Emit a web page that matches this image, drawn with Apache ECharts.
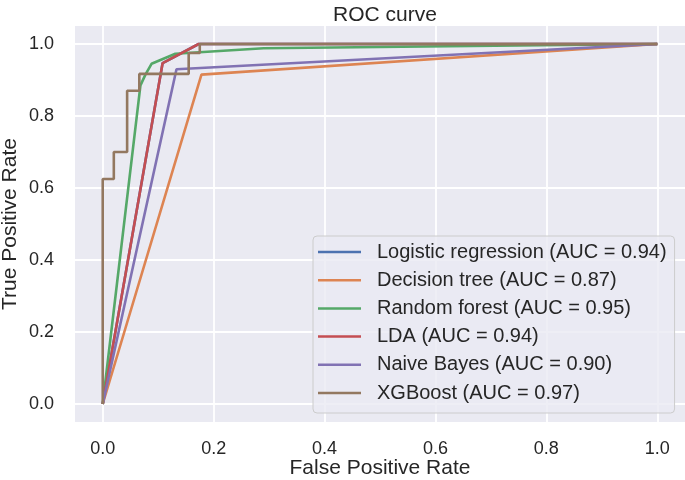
<!DOCTYPE html>
<html>
<head>
<meta charset="utf-8">
<script src="https://cdn.jsdelivr.net/npm/echarts@6/dist/echarts.min.js"></script>
<style>
html,body{margin:0;padding:0;background:#fff;}
#chart{width:685px;height:480px;}
</style>
</head>
<body>
<div id="chart"></div>
<script>
var tickValues = [0, 0.2, 0.4, 0.6, 0.8, 1.0];

var seriesNames = [
  'Logistic regression (AUC = 0.94)',
  'Decision tree (AUC = 0.87)',
  'Random forest (AUC = 0.95)',
  'LDA (AUC = 0.94)',
  'Naive Bayes (AUC = 0.90)',
  'XGBoost (AUC = 0.97)'
];

var fprLogistic = [0, 0.108, 0.173, 1];
var tprLogistic = [0, 0.947, 1.0, 1.0];

var fprTree = [0, 0.178, 1];
var tprTree = [0, 0.915, 1];

var fprForest = [0, 0.068, 0.077, 0.088, 0.131, 0.29, 1];
var tprForest = [0, 0.885, 0.915, 0.945, 0.973, 0.988, 1];

var fprLDA = [0, 0.108, 0.173, 1];
var tprLDA = [0, 0.947, 1.0, 1.0];

var fprBayes = [0, 0.133, 1];
var tprBayes = [0, 0.93, 1];

var fprXGB = [0, 0, 0.02, 0.02, 0.044, 0.044, 0.066, 0.066, 0.155, 0.155, 0.175, 0.175, 1];
var tprXGB = [0, 0.625, 0.625, 0.70, 0.70, 0.87, 0.87, 0.917, 0.917, 0.975, 0.975, 1.0, 1.0];

var colors = ['#4c72b0', '#dd8452', '#55a868', '#c44e52', '#8172b3', '#937860'];

var fprs = [fprLogistic, fprTree, fprForest, fprLDA, fprBayes, fprXGB];
var tprs = [tprLogistic, tprTree, tprForest, tprLDA, tprBayes, tprXGB];

function pairs(xs, ys) {
  return xs.map(function (x, i) { return [x, ys[i]]; });
}

var FONT = 'Liberation Sans, Arial, sans-serif';
var TXT = '#262626';

var series = seriesNames.map(function (name, i) {
  return {
    name: name,
    type: 'line',
    data: pairs(fprs[i], tprs[i]),
    showSymbol: false,
    symbol: 'none',
    lineStyle: { width: 2.6, color: colors[i] },
    itemStyle: { color: colors[i] },
    animation: false,
    z: 3 + i
  };
});

var chart = echarts.init(document.getElementById('chart'), null, { renderer: 'canvas' });
chart.setOption({
  animation: false,
  color: colors,
  title: {
    text: 'ROC curve',
    left: 380,
    top: 0,
    textAlign: 'center',
    textStyle: { fontFamily: FONT, fontSize: 21, fontWeight: 'normal', color: TXT }
  },
  grid: {
    left: 75, right: 0, top: 26, bottom: 58,
    containLabel: false,
    outerBoundsMode: 'none',
    show: true, backgroundColor: '#eaeaf2', borderWidth: 0
  },
  xAxis: {
    type: 'value',
    min: -0.05, max: 1.05,
    name: 'False Positive Rate',
    nameLocation: 'middle',
    nameGap: 36,
    nameMoveOverlap: false,
    nameTextStyle: { fontFamily: FONT, fontSize: 21, color: TXT },
    axisLine: { show: false },
    axisTick: { show: false, customValues: tickValues },
    axisLabel: {
      customValues: tickValues,
      formatter: function (v) { return v.toFixed(1); },
      fontFamily: FONT, fontSize: 18, color: TXT, margin: 18
    },
    splitLine: { show: true, lineStyle: { color: '#ffffff', width: 1.8 } }
  },
  yAxis: {
    type: 'value',
    min: -0.05, max: 1.05,
    name: 'True Positive Rate',
    nameLocation: 'middle',
    nameGap: 54,
    nameMoveOverlap: false,
    nameTextStyle: { fontFamily: FONT, fontSize: 21, color: TXT },
    axisLine: { show: false },
    axisTick: { show: false, customValues: tickValues },
    axisLabel: {
      customValues: tickValues,
      formatter: function (v) { return v.toFixed(1); },
      fontFamily: FONT, fontSize: 18, color: TXT, margin: 21
    },
    splitLine: { show: true, lineStyle: { color: '#ffffff', width: 1.8 } }
  },
  legend: {
    orient: 'vertical',
    left: 313,
    top: 236,
    data: seriesNames,
    icon: 'rect',
    itemWidth: 43,
    itemHeight: 2.5,
    itemGap: 8.2,
    padding: [6, 8, 10, 5],
    backgroundColor: 'rgba(234,234,242,0.8)',
    borderColor: '#cccccc',
    borderWidth: 1,
    borderRadius: 4,
    textStyle: { fontFamily: FONT, fontSize: 20, lineHeight: 20, color: TXT, padding: [0, 0, 0, 11] }
  },
  series: series
});
</script>
</body>
</html>
